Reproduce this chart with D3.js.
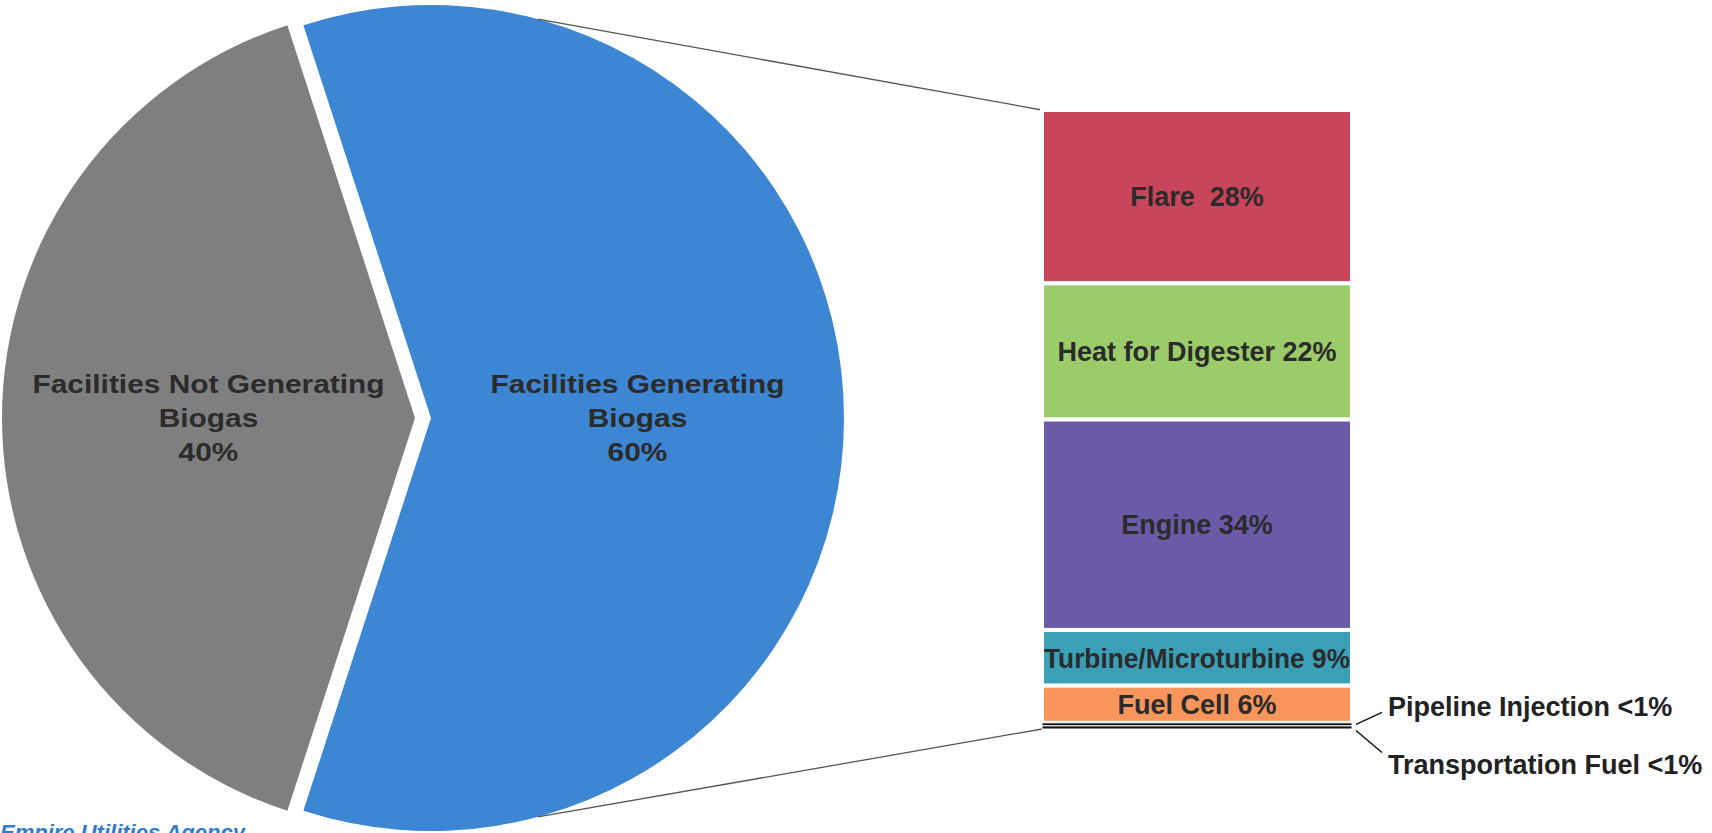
<!DOCTYPE html>
<html>
<head>
<meta charset="utf-8">
<script src="https://cdn.jsdelivr.net/npm/d3@7"></script>
<style>
  html, body { margin: 0; padding: 0; background: #fff; overflow: hidden; }
  svg { display: block; font-family: "Liberation Sans", Arial, sans-serif; }
  .barLabel { white-space: pre; }
</style>
</head>
<body>
<div id="chart"></div>
<script>
(function() {
    const width = 1712, height = 833;

    // pie data
    const pieKeys = ["generating", "notGenerating"];
    const pieValues = [60, 40];
    const pieLines = [
        ["Facilities Generating", "Biogas", "60%"],
        ["Facilities Not Generating", "Biogas", "40%"]
    ];
    const pieColors = ["#3d86d3", "#7f7f7f"];

    // bar (breakdown of the generating slice)
    const barCategories = ["Flare", "Heat for Digester", "Engine", "Turbine/Microturbine",
                           "Fuel Cell", "Pipeline Injection", "Transportation Fuel"];
    const barValues = [28, 22, 34, 9, 6, 0.5, 0.5];
    const barLabels = ["Flare  28%", "Heat for Digester 22%", "Engine 34%", "Turbine/Microturbine 9%",
                       "Fuel Cell 6%", "Pipeline Injection <1%", "Transportation Fuel <1%"];
    const barColors = ["#c9455b", "#9ccb6a", "#6a5aa7", "#3b9fb8", "#f7955b", "#111", "#111"];

    const cx = 423, cy = 418, radius = 413, explode = 8;
    const barX = 1042, barW = 310;

    const svg = d3.select("#chart")
        .append("svg")
        .attr("width", width)
        .attr("height", height);

    // ---- pie ----
    const deg = Math.PI / 180;
    const pie = d3.pie()
        .sort(null)
        .startAngle(-18 * deg)
        .endAngle(342 * deg);
    const arcs = pie(pieValues);
    const arc = d3.arc().innerRadius(0).outerRadius(radius);

    const offset = (d) => {
        const mid = (d.startAngle + d.endAngle) / 2;
        return [explode * Math.sin(mid), -explode * Math.cos(mid)];
    };

    const slices = svg.selectAll(".slice")
        .data(arcs)
        .enter()
        .append("g")
        .attr("class", "slice")
        .attr("transform", (d) => {
            const o = offset(d);
            return "translate(" + (cx + o[0]) + "," + (cy + o[1]) + ")";
        });

    slices.append("path")
        .attr("d", arc)
        .attr("fill", (d, i) => pieColors[i]);

    // labels in the middle of each slice, a bit stretched like the original
    const labelArc = d3.arc().innerRadius(radius * 0.5).outerRadius(radius * 0.5);
    slices.each(function(d, i) {
        const mid = (d.startAngle + d.endAngle) / 2;
        const c = labelArc.centroid({startAngle: mid, endAngle: mid});
        const t = d3.select(this).append("text")
            .attr("transform", "translate(" + c[0] + "," + (c[1] + 9) + ") scale(1.15,1)")
            .attr("text-anchor", "middle")
            .attr("font-size", 26)
            .attr("font-weight", "bold")
            .attr("fill", "#2b2b2b");
        pieLines[i].forEach((line, j) => {
            t.append("tspan")
                .attr("x", 0)
                .attr("y", (j - 1) * 34.5)
                .text(line);
        });
    });

    // ---- bar ----
    const yScale = d3.scaleLinear()
        .domain([0, d3.sum(barValues)])
        .range([110, 729]);

    let acc = 0;
    const segs = barValues.map((v, i) => {
        const s = {i: i, key: barCategories[i], y0: acc, y1: acc + v};
        acc += v;
        return s;
    });

    // connector lines from blue slice to the bar
    const blue = arcs[0];
    const bo = offset(blue);
    const bcx = cx + bo[0], bcy = cy + bo[1];
    const tipPoint = (a) => [bcx + radius * Math.sin(a * deg), bcy - radius * Math.cos(a * deg)];
    const p1 = tipPoint(15), p2 = tipPoint(165);
    svg.append("line")
        .attr("x1", p1[0]).attr("y1", p1[1])
        .attr("x2", barX).attr("y2", yScale(0))
        .attr("stroke", "#555").attr("stroke-width", 1.3);
    svg.append("line")
        .attr("x1", p2[0]).attr("y1", p2[1])
        .attr("x2", barX).attr("y2", yScale(acc))
        .attr("stroke", "#555").attr("stroke-width", 1.3);

    const big = segs.filter((s) => barValues[s.i] >= 1);
    const tiny = segs.filter((s) => barValues[s.i] < 1);

    svg.selectAll(".bar")
        .data(big)
        .enter()
        .append("rect")
        .attr("class", "bar")
        .attr("x", barX)
        .attr("width", barW)
        .attr("y", (s) => yScale(s.y0))
        .attr("height", (s) => yScale(s.y1) - yScale(s.y0))
        .attr("fill", (s) => barColors[s.i])
        .attr("stroke", "#fff")
        .attr("stroke-width", 4);

    svg.selectAll(".tiny")
        .data(tiny)
        .enter()
        .append("rect")
        .attr("class", "tiny")
        .attr("x", barX)
        .attr("width", barW)
        .attr("y", (s) => yScale(s.y0))
        .attr("height", (s) => yScale(s.y1) - yScale(s.y0))
        .attr("fill", (s) => barColors[s.i])
        .attr("stroke", "#fff")
        .attr("stroke-width", 1);

    svg.selectAll(".barLabel")
        .data(big)
        .enter()
        .append("text")
        .attr("class", "barLabel")
        .attr("x", barX + barW / 2)
        .attr("y", (s) => (yScale(s.y0) + yScale(s.y1)) / 2)
        .attr("dy", "0.36em")
        .attr("text-anchor", "middle")
        .attr("font-size", 27)
        .attr("font-weight", "bold")
        .attr("fill", "#2b2b2b")
        .text((s) => barLabels[s.i])
        .each(function() {
            if (this.getComputedTextLength() > barW - 4) {
                d3.select(this)
                    .attr("textLength", barW - 4)
                    .attr("lengthAdjust", "spacingAndGlyphs");
            }
        });

    // callouts for the tiny segments
    const calloutDy = [-8, 47];
    tiny.forEach((s, k) => {
        const ym = (yScale(s.y0) + yScale(s.y1)) / 2;
        const ty = ym + calloutDy[k];
        svg.append("line")
            .attr("x1", barX + barW + 4).attr("y1", ym + (k === 0 ? 0 : 3))
            .attr("x2", barX + barW + 30).attr("y2", k === 0 ? ty - 4 : ty - 22)
            .attr("stroke", "#111").attr("stroke-width", 1.5);
        svg.append("text")
            .attr("x", barX + barW + 36)
            .attr("y", ty)
            .attr("font-size", 27)
            .attr("font-weight", "bold")
            .attr("fill", "#222")
            .text(barLabels[s.i]);
    });

    // footer, cut off by the bottom edge as in the scan
    svg.append("text")
        .attr("x", 0)
        .attr("y", 840)
        .attr("font-size", 22)
        .attr("font-weight", "bold")
        .attr("font-style", "italic")
        .attr("fill", "#2f7bcf")
        .text("Empire Utilities Agency");
})();
</script>
</body>
</html>
